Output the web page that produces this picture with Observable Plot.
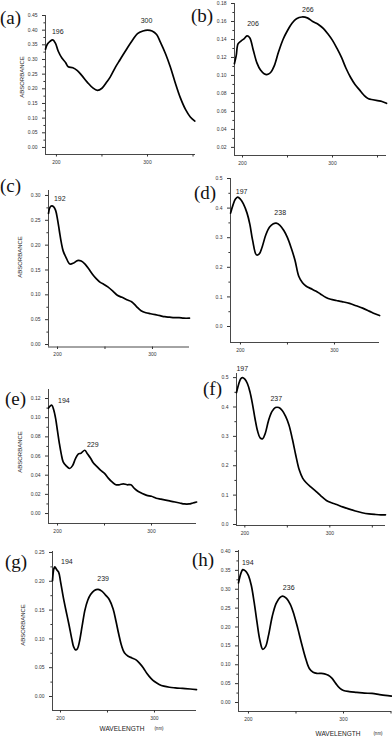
<!DOCTYPE html>
<html><head><meta charset="utf-8">
<script src="https://cdn.jsdelivr.net/npm/d3@7"></script>
<script src="https://cdn.jsdelivr.net/npm/@observablehq/plot@0.6"></script>
<style>
html,body{margin:0;padding:0;background:#fff;}
#fig{position:relative;width:392px;height:737px;overflow:hidden;background:#fff;}
#fig svg{position:absolute;overflow:visible;}
.plabel{position:absolute;font-family:"Liberation Serif","DejaVu Serif",serif;font-size:19px;line-height:1;color:#111;transform:translateY(-50%);}
.ylab{position:absolute;font-family:"Liberation Sans",Arial,sans-serif;font-size:6px;color:#222;transform:translate(-50%,-50%) rotate(-90deg);white-space:nowrap;}
.xlab{position:absolute;font-family:"Liberation Sans",Arial,sans-serif;font-size:6.5px;color:#222;transform:translate(-50%,-50%);white-space:nowrap;}
.xunit{position:absolute;font-family:"Liberation Sans",Arial,sans-serif;font-size:4.5px;color:#222;transform:translate(-50%,-50%);white-space:nowrap;}
</style></head>
<body><div id="fig"></div>
<script>
// ---------- DATA ----------
const wlA = [188,190,193,196,199,202,206,210,213,218,223,228,234,240,245,250,255,259,265,270,278,284,289,295,300,305,310,314,320,325,330,336,342,347,352];
const absA = [0.335,0.352,0.362,0.367,0.355,0.328,0.305,0.29,0.275,0.272,0.262,0.245,0.222,0.203,0.195,0.202,0.222,0.24,0.275,0.30,0.34,0.368,0.388,0.397,0.40,0.397,0.385,0.36,0.318,0.275,0.225,0.17,0.128,0.104,0.09];

const wlB = [191,193,195,198,202,205,208,212,216,220,224,227,231,235,240,245,250,255,260,266,272,278,284,290,295,300,305,310,315,320,325,330,335,340,345,350,355,360];
const absB = [0.113,0.122,0.135,0.138,0.141,0.144,0.142,0.128,0.114,0.106,0.102,0.101,0.103,0.11,0.126,0.14,0.15,0.158,0.163,0.165,0.164,0.16,0.157,0.152,0.146,0.139,0.13,0.12,0.108,0.098,0.09,0.084,0.078,0.074,0.073,0.072,0.071,0.069];

const wlC = [190.5,192,194,196,198,200,202,204,206,209,213,217,221,225,229,233,237,241,245,249,253,258,263,268,273,278,283,288,293,298,303,308,313,318,323,328,333,339];
const absC = [0.264,0.276,0.279,0.277,0.27,0.252,0.228,0.205,0.188,0.175,0.162,0.164,0.169,0.168,0.162,0.152,0.141,0.132,0.125,0.121,0.116,0.108,0.099,0.095,0.09,0.086,0.077,0.068,0.064,0.062,0.06,0.058,0.056,0.055,0.054,0.054,0.053,0.053];

const wlD = [189.5,192,194.5,197,200,203,207,210,213,217,220,223,227,231,235,238,242,246,250,254,258,262,266,270,275,280,285,291,296,302,308,316,323,330,337,343,348];
const absD = [0.383,0.41,0.43,0.437,0.43,0.415,0.383,0.345,0.29,0.242,0.245,0.268,0.31,0.336,0.347,0.349,0.342,0.325,0.30,0.265,0.224,0.17,0.148,0.136,0.128,0.12,0.11,0.098,0.092,0.088,0.084,0.078,0.07,0.062,0.052,0.043,0.037];

const wlE = [190.4,192,194,196,198,200,202,204,206,209,213,216,219,222,225,229,232,235,238,242,246,250,254,258,262,266,270,274,278,282,286,290,295,300,305,310,315,320,325,330,335,340,344,348];
const absE = [0.11,0.112,0.113,0.108,0.099,0.086,0.073,0.062,0.054,0.05,0.047,0.05,0.057,0.062,0.063,0.066,0.062,0.058,0.053,0.049,0.045,0.042,0.037,0.033,0.03,0.03,0.031,0.03,0.03,0.026,0.023,0.021,0.019,0.018,0.016,0.015,0.014,0.013,0.012,0.011,0.01,0.01,0.011,0.012];

const wlF = [190.2,193,195,197,200,203,206,209,212,215,218,221,224,228,232,236,240,244,248,252,256,260,264,268,272,278,284,290,296,302,308,315,322,330,338,346,354,360,365.5];
const absF = [0.449,0.48,0.495,0.50,0.495,0.48,0.452,0.41,0.36,0.318,0.295,0.292,0.31,0.355,0.385,0.398,0.398,0.388,0.368,0.338,0.29,0.235,0.186,0.158,0.143,0.127,0.112,0.096,0.082,0.074,0.068,0.06,0.053,0.046,0.04,0.036,0.034,0.033,0.033];

const wlG = [191.5,193,194,196,198,200,203,206,209,212,214,216,218,220,223,226,229,232,236,240,244,248,252,256,259,262,265,268,272,276,280,284,288,292,296,300,305,310,316,322,330,338,344.7];
const absG = [0.201,0.222,0.225,0.22,0.216,0.2,0.172,0.148,0.125,0.1,0.086,0.081,0.083,0.094,0.122,0.15,0.167,0.177,0.184,0.186,0.183,0.176,0.168,0.152,0.131,0.108,0.088,0.076,0.07,0.067,0.064,0.058,0.05,0.04,0.032,0.026,0.021,0.018,0.016,0.015,0.014,0.013,0.012];

const wlH = [189.5,192,194,196,198,200,203,206,209,212,215,218,221,225,229,233,236,240,244,248,252,256,260,264,268,272,276,280,284,288,292,296,300,306,314,322,330,338,344,350.5];
const absH = [0.317,0.342,0.352,0.35,0.345,0.336,0.31,0.265,0.212,0.165,0.141,0.148,0.177,0.228,0.262,0.278,0.282,0.276,0.26,0.232,0.195,0.155,0.118,0.09,0.08,0.077,0.077,0.076,0.072,0.064,0.05,0.038,0.032,0.029,0.027,0.025,0.024,0.021,0.019,0.017];

// peak annotations
const peaksA = [{t:"196", w:196, a:0.367}, {t:"300", w:300, a:0.40}];
const peaksB = [{t:"206", w:205, a:0.144}, {t:"266", w:266, a:0.165}];
const peaksC = [{t:"192", w:194, a:0.279}];
const peaksD = [{t:"197", w:197, a:0.437}, {t:"238", w:238, a:0.349}];
const peaksE = [{t:"194", w:194, a:0.113}, {t:"229", w:229, a:0.066}];
const peaksF = [{t:"197", w:197, a:0.50}, {t:"237", w:237, a:0.40}];
const peaksG = [{t:"194", w:194, a:0.225}, {t:"239", w:240, a:0.186}];
const peaksH = [{t:"194", w:194, a:0.352}, {t:"236", w:236, a:0.282}];

// tick values
const xTicks = [200, 250, 300, 350];
const xTickLabels = [200, 300];
const yTicksA = [0,0.05,0.10,0.15,0.20,0.25,0.30,0.35,0.40,0.45];
const yTicksB = [0.02,0.04,0.06,0.08,0.10,0.12,0.14,0.16,0.18];
const yTicksC = [0,0.05,0.10,0.15,0.20,0.25,0.30];
const yTicksD = [0,0.1,0.2,0.3,0.4,0.5];
const yTicksE = [0,0.02,0.04,0.06,0.08,0.10,0.12];
const yTicksF = [0,0.1,0.2,0.3,0.4,0.5];
const yTicksG = [0,0.05,0.10,0.15,0.20,0.25];
const yTicksH = [0,0.05,0.10,0.15,0.20,0.25,0.30,0.35,0.40];

const panelLetters = ["(a)","(b)","(c)","(d)","(e)","(f)","(g)","(h)"];
const yTitle = "ABSORBANCE";
const xTitle = "WAVELENGTH";
const xUnit = "(nm)";

// ---------- LAYOUT ----------
const layout = [
  {wl:wlA, ab:absA, pk:peaksA, yt:yTicksA, dec:2, box:[45,15,195,154], x:[188,352.7], y:[-0.024,0.45], lab:[0,17], ylab:[22,77], off:[[5,-8],[-1,-9]]},
  {wl:wlB, ab:absB, pk:peaksB, yt:yTicksB, dec:2, box:[234,3,386,155], x:[191.1,360], y:[0.011,0.18], lab:[191,15], off:[[6,-12],[6,-7]]},
  {wl:wlC, ab:absC, pk:peaksC, yt:yTicksC, dec:2, box:[48,190,189,346.5], x:[190.5,339], y:[-0.005,0.31], lab:[0,185], ylab:[20,257], off:[[8,-7]]},
  {wl:wlD, ab:absD, pk:peaksD, yt:yTicksD, dec:1, box:[230,178,379,342], x:[189.4,347.9], y:[-0.054,0.5], lab:[194,192], off:[[4,-5],[4,-10]]},
  {wl:wlE, ab:absE, pk:peaksE, yt:yTicksE, dec:2, box:[48,389,196,523], x:[190.4,347.9], y:[-0.0104,0.1294], lab:[5,398], ylab:[20,452], off:[[12,-4],[8,-6]]},
  {wl:wlF, ab:absF, pk:peaksF, yt:yTicksF, dec:1, box:[236,373,385,525], x:[190.2,365.5], y:[-0.0034,0.514], lab:[203,388], off:[[0,-9],[0,-8]]},
  {wl:wlG, ab:absG, pk:peaksG, yt:yTicksG, dec:2, box:[52,551,196,710], x:[191.5,344.7], y:[-0.0243,0.2517], lab:[5,561], ylab:[23,625], off:[[12,-5],[5,-11]], xt:[122,728], xu:[159,728]},
  {wl:wlH, ab:absH, pk:peaksH, yt:yTicksH, dec:2, box:[238,550,391,711], x:[189.5,350.5], y:[-0.0238,0.4026], lab:[192,559], off:[[5,-7],[6,-8]], xt:[338,733], xu:[378,733]}
];

const fig = document.getElementById("fig");
const ml = 30, mr = 4, mt = 6, mb = 14;

layout.forEach((L, i) => {
  const [x0, y0, x1, y1] = L.box;
  const data = L.wl.map((w, j) => ({w, a: L.ab[j]}));
  const step = L.yt[1] - L.yt[0];
  const minor = L.yt.map(v => v + step / 2).filter(v => v < L.y[1]);
  const xt = xTicks.filter(v => v >= L.x[0] && v <= L.x[1]);
  const fmt = d3.format("." + L.dec + "f");
  const marks = [
    Plot.ruleX([L.x[0]], {stroke: "#333", strokeWidth: 0.9}),
    Plot.ruleY([L.y[0]], {stroke: "#333", strokeWidth: 0.9}),
    Plot.axisY({ticks: L.yt, tickFormat: fmt, tickSize: 3, tickPadding: 5, fontSize: 5, stroke: "#333", fill: "#333", label: null}),
    Plot.axisY({ticks: minor, tickFormat: () => "", tickSize: 1.6, stroke: "#333", label: null}),
    Plot.axisX({ticks: xt, tickFormat: d => xTickLabels.includes(d) ? d : "", tickSize: 2.5, tickPadding: 3, fontSize: 5, stroke: "#333", fill: "#333", label: null}),
    Plot.line(data, {x: "w", y: "a", curve: "catmull-rom", stroke: "#000", strokeWidth: 1.7}),
    ...L.pk.map((p, k) => Plot.text([p], {x: "w", y: "a", text: "t", dx: L.off[k][0], dy: L.off[k][1], fontSize: 7, fill: "#222"}))
  ];
  const chart = Plot.plot({
    width: (x1 - x0) + ml + mr,
    height: (y1 - y0) + mt + mb,
    marginLeft: ml, marginRight: mr, marginTop: mt, marginBottom: mb,
    x: {domain: L.x},
    y: {domain: L.y},
    style: {fontFamily: '"Liberation Sans", Arial, sans-serif', background: "transparent", overflow: "visible"},
    marks
  });
  chart.style.left = (x0 - ml) + "px";
  chart.style.top = (y0 - mt) + "px";
  fig.appendChild(chart);

  const pl = document.createElement("div");
  pl.className = "plabel";
  pl.textContent = panelLetters[i];
  pl.style.left = L.lab[0] + "px";
  pl.style.top = L.lab[1] + "px";
  fig.appendChild(pl);

  if (L.ylab) {
    const yl = document.createElement("div");
    yl.className = "ylab";
    yl.textContent = yTitle;
    yl.style.left = L.ylab[0] + "px";
    yl.style.top = L.ylab[1] + "px";
    fig.appendChild(yl);
  }
  if (L.xt) {
    const xl = document.createElement("div");
    xl.className = "xlab";
    xl.textContent = xTitle;
    xl.style.left = L.xt[0] + "px";
    xl.style.top = L.xt[1] + "px";
    fig.appendChild(xl);
    const xu = document.createElement("div");
    xu.className = "xunit";
    xu.textContent = xUnit;
    xu.style.left = L.xu[0] + "px";
    xu.style.top = L.xu[1] + "px";
    fig.appendChild(xu);
  }
});
</script>
</body></html>
